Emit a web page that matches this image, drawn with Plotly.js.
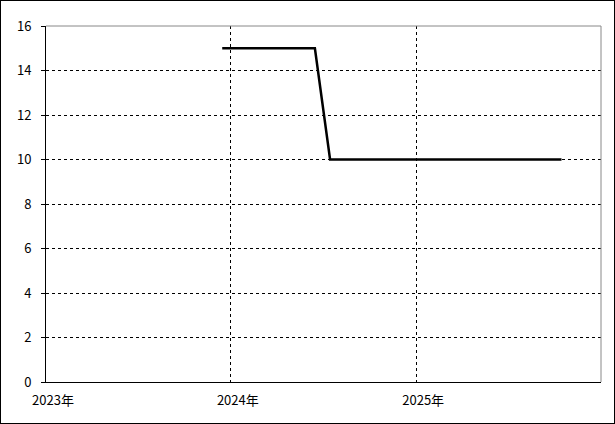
<!DOCTYPE html>
<html><head><meta charset="utf-8">
<script src="https://cdn.plot.ly/plotly-3.0.1.min.js"></script>
<style>
html,body{margin:0;padding:0;background:#fff;}
#c{width:615px;height:424px;border:1px solid #000;box-sizing:border-box;}
</style></head>
<body><div id="c"></div>
<script>
const dates = ["2023-12-15","2024-01-15","2024-02-15","2024-03-15","2024-04-15","2024-05-15","2024-06-15",
  "2024-07-15","2024-08-15","2024-09-15","2024-10-15","2024-11-15","2024-12-15",
  "2025-01-15","2025-02-15","2025-03-15","2025-04-15","2025-05-15","2025-06-15","2025-07-15","2025-08-15","2025-09-15","2025-10-15"];
const values = [15,15,15,15,15,15,15, 10,10,10,10,10,10, 10,10,10,10,10,10,10,10,10,10];
const xTickVals = ["2023-01-01","2024-01-01","2025-01-01"];
const xTickText = ["2023年","2024年","2025年"];
const yTickVals = [0,2,4,6,8,10,12,14,16];

const font = {family:"'Noto Sans CJK JP', 'DejaVu Sans', sans-serif", size:13, color:"#000"};
Plotly.newPlot("c", [{
  x: dates, y: values, type: "scatter", mode: "lines",
  line: {color:"#000", width:2.5}, hoverinfo: "skip"
}], {
  width: 613, height: 422,
  margin: {l:45, r:13, t:25, b:41},
  paper_bgcolor: "#fff", plot_bgcolor: "#fff",
  font: font,
  showlegend: false,
  xaxis: {
    type: "date", range: ["2023-01-01","2026-01-01"],
    tickmode: "array", tickvals: xTickVals, ticktext: xTickText,
    showgrid: true, gridcolor: "#000", gridwidth: 1, griddash: "3px,3px",
    showline: true, linecolor: "#000", linewidth: 1,
    ticks: "", zeroline: false, ticklabelshift: 7, ticklabelstandoff: 6,
    tickfont: font, fixedrange: true
  },
  yaxis: {
    range: [0,16], tickmode: "array", tickvals: yTickVals,
    showgrid: true, gridcolor: "#000", gridwidth: 1, griddash: "3px,3px",
    showline: true, linecolor: "#000", linewidth: 1,
    ticks: "outside", ticklen: 4, tickcolor: "#000", tickwidth: 1,
    zeroline: false, ticklabelstandoff: 7, tickfont: font, fixedrange: true
  },
  shapes: [
    {type:"line", xref:"paper", yref:"paper", x0:0, x1:1, y0:1, y1:1, line:{color:"#888", width:1}},
    {type:"line", xref:"paper", yref:"paper", x0:1, x1:1, y0:0, y1:1, line:{color:"#888", width:1}}
  ]
}, {staticPlot: true});
</script></body></html>
